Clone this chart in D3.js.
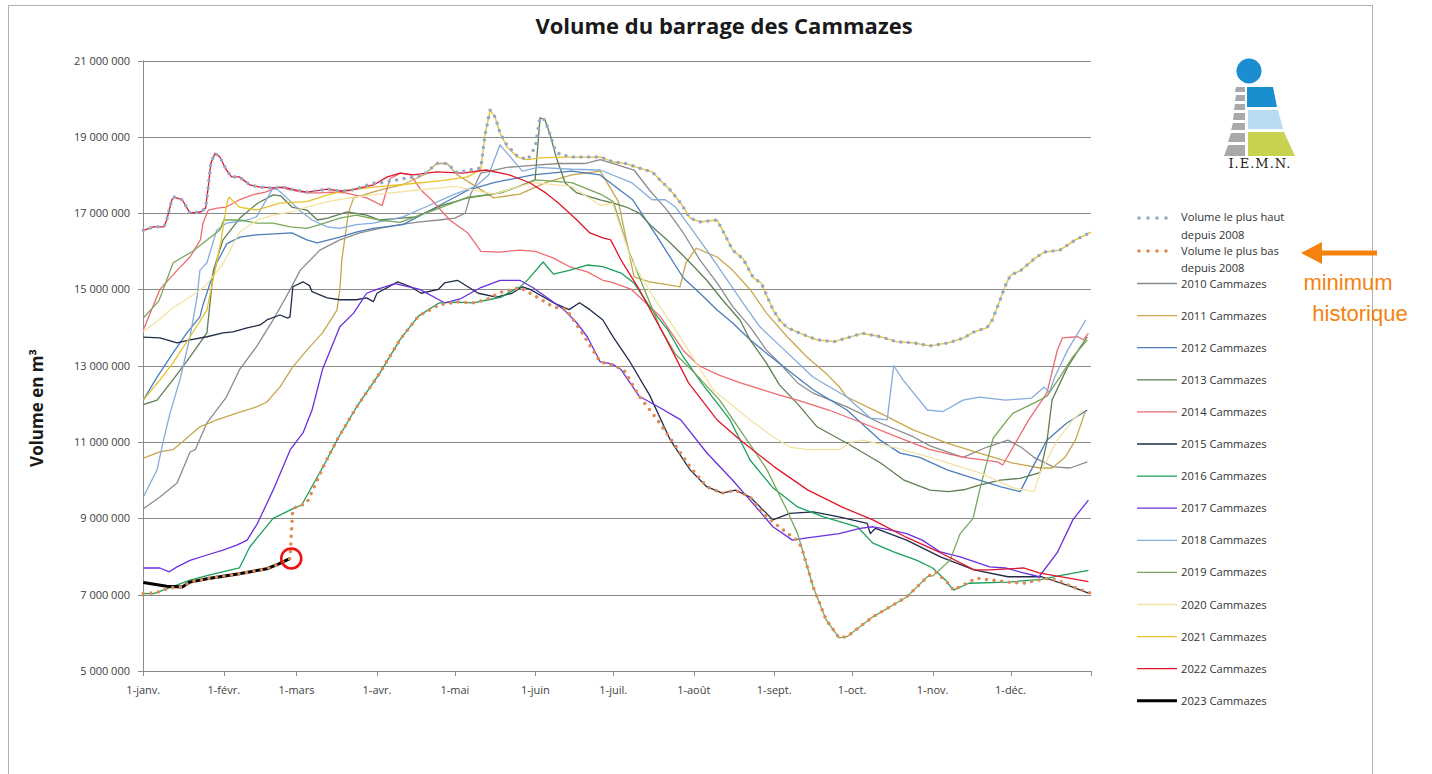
<!DOCTYPE html>
<html>
<head>
<meta charset="utf-8">
<script src="https://cdn.jsdelivr.net/npm/d3@7"></script>
<style>
  body { margin: 0; background: #fff; }
  text { font-family: "Open Sans", Lato, sans-serif; }
</style>
</head>
<body>
<svg id="chart" width="1432" height="774"></svg>
<script>
// volumes en millions de m3, [jour de l'année, volume]
var monthDays = [0, 31, 59, 90, 120, 151, 181, 212, 243, 273, 304, 334, 365];
var monthLabels = ["1-janv.", "1-févr.", "1-mars", "1-avr.", "1-mai", "1-juin", "1-juil.", "1-août", "1-sept.", "1-oct.", "1-nov.", "1-déc.", ""];
var yTicks = [5, 7, 9, 11, 13, 15, 17, 19, 21];

var maxEnv = [[0,16.55],[4,16.64],[8,16.64],[9,16.82],[11,17.35],[12,17.42],[15,17.35],[18,17.0],[22,17.03],[24,17.13],[25,17.68],[26,18.3],[27.6,18.57],[29.5,18.47],[32,18.13],[34,17.95],[37,17.95],[41,17.74],[45,17.68],[50,17.66],[54,17.68],[59,17.6],[63,17.55],[71,17.63],[76,17.58],[80,17.6],[89,17.79],[92,17.8],[100,17.9],[108,18.0],[113,18.3],[117,18.3],[121,18.05],[125,18.13],[130,18.18],[131.6,19.05],[133.6,19.7],[135.5,19.52],[137.4,19.1],[140,18.79],[144,18.5],[148,18.4],[151,18.74],[152.8,19.5],[154.7,19.44],[156.7,19.05],[158.6,18.66],[160.5,18.53],[165.5,18.47],[176,18.47],[181,18.34],[186,18.3],[191,18.18],[196,18.08],[199,17.87],[203,17.6],[207,17.26],[210.6,16.87],[214.4,16.77],[221,16.82],[223,16.56],[227,16.03],[231,15.8],[235,15.3],[238,15.17],[242.5,14.47],[245,14.2],[248,14.0],[253,13.85],[259.5,13.68],[266,13.63],[271,13.73],[277,13.85],[284,13.76],[290,13.63],[296.5,13.6],[303,13.52],[310,13.6],[316,13.73],[320,13.89],[325,14.0],[327,14.2],[330,14.73],[332,15.1],[334,15.37],[338,15.5],[343.5,15.82],[347,15.98],[353,16.03],[359,16.3],[365,16.5]];

var minEnv = [[0,7.03],[5,7.05],[10,7.18],[15,7.2],[18,7.33],[24.5,7.42],[37,7.55],[47.6,7.68],[52,7.8],[56.6,7.95],[57,8.6],[57.6,9.25],[59,9.3],[63,9.4],[70,10.45],[75,11.1],[82,11.9],[91,12.8],[99,13.7],[106,14.3],[114,14.6],[121,14.67],[127,14.65],[132,14.73],[134,14.8],[138,14.93],[145,15.05],[151.6,14.8],[158,14.54],[163,14.47],[169,13.86],[176,13.1],[181.7,13.0],[185.5,12.85],[191,12.2],[198,11.58],[204,11.0],[210.6,10.35],[217,9.83],[223,9.66],[228,9.74],[233.7,9.56],[240,9.04],[246.4,8.7],[251.7,8.43],[253.5,8.25],[258,7.2],[263,6.34],[268,5.87],[271,5.9],[281,6.42],[294,6.94],[302,7.47],[305,7.6],[310,7.3],[312,7.12],[317,7.3],[321,7.43],[333,7.33],[339,7.3],[346,7.4],[349,7.43],[353,7.35],[358,7.2],[365,7.04]];

var y2010 = [[0,9.25],[6.4,9.56],[13,9.93],[18,10.74],[20,10.8],[24.5,11.5],[32,12.18],[37,12.89],[43.6,13.5],[50,14.2],[56.6,15.0],[60.4,15.5],[68,16.03],[75.7,16.3],[83.4,16.48],[91,16.6],[98.8,16.7],[106.5,16.77],[114,16.82],[120,16.87],[124,17.0],[126,17.48],[130,18.05],[140,18.2],[150,18.25],[160,18.3],[170,18.3],[176,18.4],[189,18.13],[195,17.6],[201.7,17.08],[208,16.48],[214.4,15.77],[221,15.17],[227,14.55],[233.7,14.02],[240,13.41],[245,13.07],[252,12.55],[258,12.28],[271,11.92],[283.8,11.5],[296.5,11.14],[303,10.9],[315.7,10.6],[325,10.87],[333,11.05],[338,10.87],[343,10.6],[350.5,10.35],[357,10.32],[363.6,10.48]];

var y2011 = [[0,10.58],[6.4,10.74],[11.4,10.8],[15,11.0],[21.8,11.4],[28.3,11.58],[36,11.76],[43.6,11.92],[47.6,12.05],[52.6,12.44],[57.6,12.97],[63,13.41],[69,13.86],[74.6,14.46],[75.7,15.0],[76.5,15.8],[79,17.0],[81,17.4],[91,17.6],[100,17.75],[108,18.0],[113,18.3],[117,18.3],[121,18.0],[128,17.7],[135,17.4],[145,17.5],[155,17.8],[165,18.0],[176,18.1],[183,17.3],[186,16.3],[189,15.33],[195,15.2],[204,15.1],[206.7,15.07],[209,15.7],[213,16.08],[221,15.85],[227,15.5],[233.7,15.0],[240,14.38],[248,13.76],[255.6,13.23],[263,12.8],[268,12.45],[271,12.18],[283.8,11.76],[296.5,11.32],[309.6,10.97],[322,10.71],[335,10.45],[345.4,10.32],[350,10.32],[355,10.6],[359,11.05],[363,11.84]];

var y2012 = [[0,12.1],[5.3,12.7],[11.4,13.33],[16.8,13.86],[21.8,14.28],[23,14.6],[28.3,15.7],[32.2,16.2],[37.2,16.37],[43.6,16.43],[57.2,16.48],[63,16.3],[66.9,16.22],[75.7,16.37],[82,16.5],[88.6,16.6],[100,16.7],[114,17.2],[125,17.6],[135,17.8],[150,18.0],[165,18.1],[175.9,18.0],[188.5,17.35],[198,16.37],[208,15.3],[214.4,14.9],[221,14.46],[227,14.12],[233.7,13.68],[240,13.33],[248,12.9],[258,12.37],[271,11.84],[283.8,11.05],[291.5,10.71],[299,10.6],[309.6,10.27],[322,10.0],[330,9.83],[337.7,9.7],[342.6,10.35],[348,11.05],[355.7,11.5],[363.6,11.84]];

var y2013 = [[0,11.98],[5.3,12.1],[11.4,12.63],[18,13.23],[24.5,13.86],[27,15.5],[30.7,16.3],[37.2,16.87],[44,17.26],[50,17.48],[53,17.45],[57.2,17.16],[63,17.08],[67,16.82],[71,16.87],[78.5,17.03],[86,16.95],[91,16.82],[105,16.9],[115,17.2],[125,17.4],[135,17.5],[145,17.7],[150.9,17.87],[152.8,19.5],[154.7,19.44],[156.7,19.05],[159,18.47],[162.5,17.79],[167,17.53],[176,17.35],[181,17.26],[186,17.16],[191,17.0],[196,16.64],[201.7,16.3],[207,15.95],[212,15.6],[217,15.24],[223,14.73],[229.8,14.2],[233.7,13.68],[240,13.07],[245,12.5],[252,12.0],[259.5,11.4],[271,10.97],[284,10.45],[293,10.0],[303,9.74],[310,9.7],[316,9.75],[322,9.87],[330,10.0],[337.7,10.05],[345.4,10.2],[348,11.0],[350,12.1],[356,12.97],[361,13.5],[363.6,13.76]];

var y2014 = [[0,13.94],[6.4,15.0],[13,15.5],[18,15.85],[22,16.3],[23,16.74],[25,17.08],[28.5,17.13],[32,17.16],[37,17.35],[42,17.48],[47,17.55],[52,17.68],[57,17.6],[63,17.53],[68,17.53],[73,17.55],[78,17.53],[86,17.4],[92,17.2],[95,17.9],[99,18.05],[103,18.0],[107,17.6],[111,17.35],[118,16.82],[125,16.48],[130,16.0],[137,15.98],[145,16.03],[151,16.0],[158,15.82],[164,15.6],[171,15.46],[177,15.24],[180,15.2],[188,15.0],[199,14.3],[208,13.4],[214,13.0],[222,12.75],[230,12.55],[245,12.23],[252,12.1],[264,11.84],[277,11.5],[290,11.14],[303,10.8],[316,10.6],[329,10.48],[331,10.4],[335,10.87],[341,11.58],[348,12.28],[352,13.4],[354,13.73],[360,13.76],[362,13.68],[364,13.85]];

var y2015 = [[0,13.75],[6.4,13.73],[13,13.6],[18,13.68],[24.5,13.76],[30.7,13.86],[34.5,13.89],[40,13.99],[45,14.07],[47.6,14.2],[52.6,14.33],[55.7,14.25],[56.5,14.28],[57.6,15.07],[61.5,15.2],[64,15.1],[65,14.94],[70.8,14.78],[75.7,14.73],[82,14.73],[86,14.78],[88.6,14.68],[90,14.9],[98,15.2],[103,15.07],[107,14.9],[113.6,15.0],[116,15.17],[121,15.24],[125,15.07],[129,14.9],[136,14.8],[142,14.9],[146,15.07],[149,15.0],[158,14.65],[164,14.47],[168,14.65],[172,14.47],[177,14.2],[181,13.75],[187,13.15],[195,12.23],[203,11.05],[210.6,10.27],[217,9.83],[223,9.66],[228,9.74],[233.7,9.56],[242.5,8.96],[249,9.13],[258,9.17],[268,9.04],[278.8,8.87],[280,8.6],[282,8.74],[294,8.43],[307,7.99],[320,7.65],[333,7.47],[346,7.47],[358,7.2],[364,7.04]];

var y2016 = [[0,7.03],[4,7.03],[18,7.38],[24.5,7.5],[37,7.7],[41,8.25],[50,9.0],[57.5,9.25],[61,9.35],[70,10.45],[75,11.1],[82,11.9],[91,12.8],[99,13.7],[106,14.3],[114,14.65],[121,14.67],[127,14.65],[133,14.73],[138,14.8],[141,14.93],[145,15.06],[148,15.25],[154,15.72],[158,15.4],[164,15.5],[171,15.64],[177,15.6],[184,15.43],[189,15.17],[195,14.55],[202,13.94],[208,13.23],[215,12.55],[226,11.58],[233.7,10.53],[242.5,9.8],[252,9.3],[262,9.04],[275,8.78],[281,8.35],[289,8.12],[298,7.9],[304,7.7],[309,7.38],[312,7.12],[318,7.3],[333,7.33],[346,7.4],[353,7.5],[364,7.64]];

var y2017 = [[0,7.7],[6.4,7.7],[10,7.6],[13,7.73],[18,7.9],[24.5,8.04],[30.7,8.17],[36,8.3],[40,8.43],[44,8.87],[50,9.74],[56.6,10.8],[61.5,11.24],[65,11.84],[69,12.9],[75.7,14.02],[81,14.38],[86,14.9],[90,15.0],[97,15.15],[106.5,15.0],[116,14.65],[122,14.75],[130,15.05],[137.4,15.24],[145,15.24],[150,15.05],[156.7,14.73],[162,14.47],[167,14.12],[171,13.76],[176,13.1],[180.5,13.05],[184,12.9],[191,12.2],[199,11.9],[207,11.58],[217,10.72],[227,10.0],[233.7,9.48],[242.5,8.78],[250,8.43],[255,8.48],[268,8.6],[276,8.74],[281,8.78],[287.6,8.7],[294,8.6],[300,8.43],[307,8.12],[314.6,7.99],[326,7.73],[332,7.7],[339,7.57],[345,7.47],[352,8.1],[358,8.96],[364,9.48]];

var y2018 = [[0,9.56],[5.3,10.27],[7.6,11.0],[10.3,11.76],[14.1,12.63],[18,13.76],[20.7,14.8],[21.8,15.5],[24.5,15.7],[28.3,16.56],[32.2,16.74],[40,16.82],[43.6,16.9],[50,17.66],[52,17.6],[55,17.42],[60,17.08],[65,16.82],[70.8,16.64],[75.7,16.6],[82,16.7],[88.6,16.74],[100,16.9],[110,17.2],[120,17.5],[128,17.7],[133,18.0],[137.4,18.79],[141,18.5],[146,18.1],[152,18.2],[165,18.15],[176,18.13],[188,17.8],[196,17.35],[201,17.35],[205,17.16],[210.6,16.64],[217,16.03],[225,15.24],[231,14.64],[237.5,14.02],[244,13.6],[258,12.7],[271,12.18],[280,11.63],[284,11.6],[286.5,11.58],[289,13.0],[292.6,12.63],[302,11.84],[308,11.8],[315.7,12.1],[322,12.18],[332,12.1],[342,12.15],[347,12.44],[349,12.3],[351,12.7],[356,13.41],[363,14.2]];

var y2019 = [[0,14.25],[6,14.7],[11.5,15.7],[19,16.0],[29.5,16.56],[31,16.82],[37,16.82],[43.6,16.74],[50,16.74],[56.6,16.64],[63,16.6],[68,16.7],[75.7,16.87],[82,16.95],[91,16.82],[98.8,16.76],[112,17.08],[125,17.42],[138,17.53],[151,17.87],[165,17.8],[176,17.5],[181,17.3],[187,16.0],[193,15.0],[199,14.0],[205,13.3],[212.5,12.8],[222,12.1],[231,11.2],[240,10.3],[248,9.2],[252,8.6],[253.5,8.25],[258,7.2],[263,6.34],[268,5.87],[271,5.9],[281,6.42],[294,6.94],[302,7.47],[304.3,7.5],[310.7,7.9],[314.6,8.6],[319.6,9.0],[322.3,9.8],[325,10.5],[327.3,11.1],[333,11.6],[335,11.76],[343,12.02],[348,12.2],[353,12.7],[358,13.23],[363.6,13.68]];

var y2020 = [[0,13.9],[6,14.2],[11,14.5],[18,14.8],[24,15.1],[31,15.7],[37,16.5],[44,16.82],[50,16.95],[57,17.03],[63,17.16],[71,17.3],[81,17.42],[91,17.5],[105,17.6],[120,17.7],[135,17.5],[150,17.8],[165,17.7],[176,17.2],[180.7,17.26],[188,15.77],[196.5,14.8],[205,13.94],[213,13.07],[219.5,12.37],[233.7,11.58],[242.5,11.14],[249,10.87],[256,10.8],[268,10.8],[273,11.0],[277,11.05],[290,10.85],[303,10.6],[322,10.2],[335,9.8],[343,9.7],[345.4,10.2],[352,11.05],[358,11.58],[362,11.84]];

var y2021 = [[0,12.1],[6.4,12.63],[11.4,13.07],[18,13.76],[24.5,14.46],[27.6,15.5],[30,16.3],[32,17.2],[33,17.42],[37,17.16],[43.6,17.08],[52.6,17.26],[63,17.3],[71,17.48],[78.5,17.6],[88.6,17.68],[100,17.75],[115,17.85],[125,17.95],[130,18.15],[131.6,19.05],[133.6,19.7],[135.5,19.52],[137.4,19.1],[140,18.74],[144,18.47],[148,18.4],[153,18.45],[160.5,18.47],[165.5,18.47],[176,18.47],[181,18.34],[186,18.3],[191,18.18],[196,18.08],[199,17.87],[203,17.6],[207,17.26],[210.6,16.87],[214.4,16.77],[221,16.82],[223,16.56],[227,16.03],[231,15.8],[235,15.3],[238,15.17],[242.5,14.47],[245,14.2],[248,14.0],[253,13.85],[259.5,13.68],[266,13.63],[271,13.73],[277,13.85],[284,13.76],[290,13.63],[296.5,13.6],[303,13.52],[310,13.6],[316,13.73],[320,13.89],[325,14.0],[327,14.2],[330,14.73],[332,15.1],[334,15.37],[338,15.5],[343.5,15.82],[347,15.98],[353,16.03],[359,16.3],[365,16.5]];

var y2022 = [[0,16.55],[4,16.64],[8,16.64],[9,16.82],[11,17.35],[12,17.42],[15,17.35],[18,17.0],[22,17.03],[24,17.13],[25,17.68],[26,18.3],[27.6,18.57],[29.5,18.47],[32,18.13],[34,17.95],[37,17.95],[41,17.74],[45,17.68],[50,17.66],[54,17.68],[59,17.6],[63,17.55],[71,17.63],[76,17.58],[80,17.6],[89,17.75],[94,17.95],[99,18.05],[104,18.0],[113,18.08],[123,18.05],[132,18.13],[141,18.0],[149,17.79],[155,17.53],[160,17.26],[167,16.82],[172,16.48],[177,16.35],[180,16.3],[184,15.77],[191,15.0],[201,13.75],[210,12.55],[221,11.58],[230,11.05],[243,10.35],[256,9.74],[269,9.3],[281,8.96],[294,8.5],[307,8.1],[320,7.65],[326,7.65],[339,7.7],[345,7.57],[364,7.34]];

var y2023 = [[0,7.32],[9,7.22],[15,7.2],[18,7.33],[24.5,7.42],[37,7.55],[47.6,7.68],[52,7.8],[56.6,7.95]];

var yearNames = ["2010 Cammazes", "2011 Cammazes", "2012 Cammazes", "2013 Cammazes", "2014 Cammazes", "2015 Cammazes", "2016 Cammazes", "2017 Cammazes", "2018 Cammazes", "2019 Cammazes", "2020 Cammazes", "2021 Cammazes", "2022 Cammazes", "2023 Cammazes"];
var yearData = [y2010, y2011, y2012, y2013, y2014, y2015, y2016, y2017, y2018, y2019, y2020, y2021, y2022, y2023];
var yearColors = ["#8c8c8c", "#c9a64e", "#4a7ebb", "#5f7f52", "#ee6b70", "#1f2b48", "#1aa05c", "#6a2fe0", "#84acdc", "#76a85a", "#f3e3a3", "#e8c22a", "#e3162c", "#000000"];

var svg = d3.select("#chart");
var x = d3.scaleLinear().domain([0, 365]).range([143.3, 1091]);
var y = d3.scaleLinear().domain([5, 21]).range([671, 60.5]);
var fmt = d3.formatLocale({decimal: ",", thousands: " ", grouping: [3], currency: ["", ""]}).format(",");

svg.append("rect").attr("width", 1432).attr("height", 774).attr("fill", "#fff");
svg.append("rect").attr("x", 8.5).attr("y", 5.5).attr("width", 1364).attr("height", 800)
    .attr("fill", "none").attr("stroke", "#b0b0b0");

svg.append("text").attr("x", 724).attr("y", 34).attr("text-anchor", "middle")
    .style("font-size", "22px").style("font-weight", "bold").attr("fill", "#1a1a1a")
    .text("Volume du barrage des Cammazes");

// grille et axes
var grid = svg.append("g");
grid.selectAll("line.h").data(yTicks).enter().append("line")
    .attr("x1", 138).attr("x2", x(365))
    .attr("y1", function(d) { return Math.round(y(d)) + 0.5; })
    .attr("y2", function(d) { return Math.round(y(d)) + 0.5; })
    .attr("stroke", "#8a8a8a").attr("stroke-width", 1);
grid.append("line").attr("x1", 143.5).attr("x2", 143.5).attr("y1", y(21)).attr("y2", y(5))
    .attr("stroke", "#8a8a8a");
grid.selectAll("line.t").data(monthDays).enter().append("line")
    .attr("x1", function(d) { return Math.round(x(d)) + 0.5; })
    .attr("x2", function(d) { return Math.round(x(d)) + 0.5; })
    .attr("y1", y(5)).attr("y2", y(5) + 5)
    .attr("stroke", "#8a8a8a");

grid.selectAll("text.y").data(yTicks).enter().append("text")
    .attr("x", 130).attr("y", function(d) { return y(d) + 4; })
    .attr("text-anchor", "end").style("font-size", "11px").attr("fill", "#404040")
    .text(function(d) { return fmt(d * 1e6); });
grid.selectAll("text.x").data(monthDays).enter().append("text")
    .attr("x", function(d) { return x(d); }).attr("y", 694)
    .attr("text-anchor", "middle").style("font-size", "11px").attr("fill", "#404040")
    .text(function(d, i) { return monthLabels[i]; });

svg.append("text").attr("transform", "translate(43,408) rotate(-90)")
    .attr("text-anchor", "middle").style("font-size", "17px").style("font-weight", "bold")
    .attr("fill", "#1a1a1a").text("Volume en m³");

// séries
var line = d3.line().x(function(d) { return x(d[0]); }).y(function(d) { return y(d[1]); });
var plot = svg.append("g");
yearData.forEach(function(data, i) {
  plot.append("path").attr("d", line(data)).attr("fill", "none")
      .attr("stroke", yearColors[i]).attr("stroke-width", i == 13 ? 3 : 1.3)
      .attr("stroke-linejoin", "round");
});
plot.append("path").attr("d", line(maxEnv)).attr("fill", "none")
    .attr("stroke", "#97a7c6").attr("stroke-width", 3.6)
    .attr("stroke-linecap", "round").attr("stroke-dasharray", "0 7.6");
plot.append("path").attr("d", line(minEnv)).attr("fill", "none")
    .attr("stroke", "#df8a55").attr("stroke-width", 3.6)
    .attr("stroke-linecap", "round").attr("stroke-dasharray", "0 7.6");

var last = y2023[y2023.length - 1];
svg.append("circle").attr("cx", x(last[0]) + 1).attr("cy", y(last[1]))
    .attr("r", 10).attr("fill", "none").attr("stroke", "#f01010").attr("stroke-width", 2.6);

// légende
var leg = svg.append("g").style("font-size", "11.2px");
function dotSample(yy, col) {
  leg.append("line").attr("x1", 1139).attr("x2", 1175).attr("y1", yy).attr("y2", yy)
      .attr("stroke", col).attr("stroke-width", 3.6).attr("stroke-linecap", "round")
      .attr("stroke-dasharray", "0 9");
}
dotSample(218, "#97a7c6");
dotSample(251, "#df8a55");
[["Volume le plus haut", 221], ["depuis 2008", 239], ["Volume le plus bas", 255], ["depuis 2008", 272]]
  .forEach(function(t) {
    leg.append("text").attr("x", 1181).attr("y", t[1]).attr("fill", "#333").text(t[0]);
  });
yearNames.forEach(function(n, i) {
  var yy = 283.5 + i * 32.1;
  leg.append("line").attr("x1", 1137).attr("x2", 1177).attr("y1", yy).attr("y2", yy)
      .attr("stroke", yearColors[i]).attr("stroke-width", i == 13 ? 3 : 1.3);
  leg.append("text").attr("x", 1181).attr("y", yy + 4).attr("fill", "#333").text(n);
});

// logo I.E.M.N.
var logo = svg.append("g");
logo.append("circle").attr("cx", 1249).attr("cy", 71).attr("r", 12.5).attr("fill", "#1b8ed0");
logo.append("polygon").attr("points", "1247,87 1273,87 1277,107 1247,107").attr("fill", "#1b8ed0");
logo.append("polygon").attr("points", "1248,110 1278,110 1283,129 1248,129").attr("fill", "#b7dbf0");
logo.append("polygon").attr("points", "1248,132 1284,132 1295,156 1248,156").attr("fill", "#c9d24e");
[[1236,87,1245,87,1245,92,1235,92],[1236,95,1245,95,1245,101,1235,101],[1235,104,1245,104,1245,110,1234,110],
 [1234,113,1245,113,1245,120,1233,120],[1233,123,1245,123,1245,130,1231,130],[1231,133,1245,133,1245,142,1228,142],
 [1228,145,1245,145,1245,156,1224,156]].forEach(function(p) {
  logo.append("polygon").attr("points", p.join(",")).attr("fill", "#a9a9a9");
});
logo.append("text").attr("x", 1260).attr("y", 168).attr("text-anchor", "middle")
    .style("font-family", "'DejaVu Serif', serif").style("font-size", "13px")
    .style("letter-spacing", "1px").attr("fill", "#222").text("I.E.M.N.");

// annotation
var ann = svg.append("g");
ann.append("line").attr("x1", 1377).attr("x2", 1318).attr("y1", 253).attr("y2", 253)
    .attr("stroke", "#f5820f").attr("stroke-width", 5);
ann.append("polygon").attr("points", "1301,253 1322,242 1322,264").attr("fill", "#f5820f");
ann.append("text").attr("x", 1348).attr("y", 290).attr("text-anchor", "middle")
    .style("font-family", "'Liberation Sans', Arial, sans-serif").style("font-size", "22px")
    .attr("fill", "#f5820f").text("minimum");
ann.append("text").attr("x", 1360).attr("y", 321).attr("text-anchor", "middle")
    .style("font-family", "'Liberation Sans', Arial, sans-serif").style("font-size", "22px")
    .attr("fill", "#f5820f").text("historique");
</script>
</body>
</html>
